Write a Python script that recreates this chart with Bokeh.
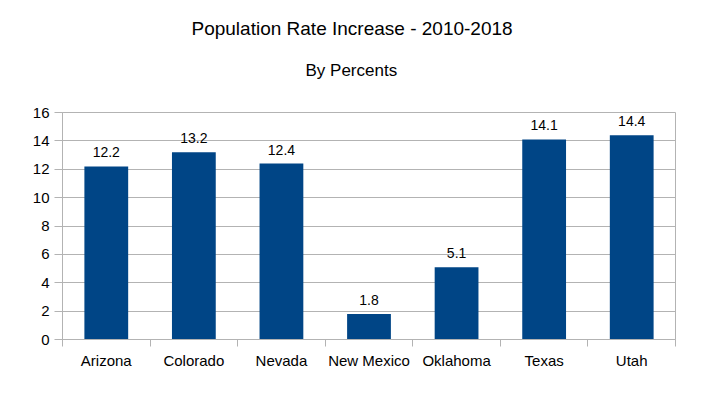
from bokeh.plotting import figure
from bokeh.models import ColumnDataSource, Range1d, FixedTicker, Title
from bokeh.core.properties import value
from bokeh.embed import file_html
from bokeh.resources import INLINE

states = ["Arizona", "Colorado", "Nevada", "New Mexico", "Oklahoma", "Texas", "Utah"]
increase = [12.2, 13.2, 12.4, 1.8, 5.1, 14.1, 14.4]
y_ticks = [0, 2, 4, 6, 8, 10, 12, 14, 16]
title_text = "Population Rate Increase - 2010-2018"
subtitle_text = "By Percents"

FONT = "Liberation Sans"
GRAY = "#b3b3b3"
BAR = "#004586"

n = len(states)
centres = [i + 0.5 for i in range(n)]  # category slot centres
src = ColumnDataSource(dict(x=centres, state=states, val=increase,
                            lbl=[f"{v:.1f}" for v in increase]))

p = figure(width=687, height=379, x_range=Range1d(0, n), y_range=Range1d(0, 16),
           output_backend="svg", toolbar_location=None,
           min_border_left=62, min_border_right=12, min_border_bottom=40, min_border_top=112,
           background_fill_color="white", border_fill_color="white")
p.title = None

# blank spacer between the plot frame and the subtitle
spacer = Title(text=" ", text_font=FONT, text_font_size="1px", standoff=20,
               text_color="white")
p.add_layout(spacer, "above")
sub = Title(text=subtitle_text, align="left", text_font=FONT, text_font_size="17px",
            text_font_style="normal", text_color="black", standoff=20, offset=243)
p.add_layout(sub, "above")
main = Title(text=title_text, align="left", text_font=FONT, text_font_size="19px",
             text_font_style="normal", text_color="black", standoff=19, offset=129)
p.add_layout(main, "above")

p.vbar(x="x", top="val", width=0.5, source=src, color=BAR, line_color=None)
p.text(x="x", y="val", text="lbl", source=src, text_align="center",
       text_baseline="alphabetic", y_offset=-14, text_font=value(FONT),
       text_font_size="14px", text_color="black")

# x axis: labels at category centres, ticks at category boundaries
xaxis = p.xaxis[0]
xaxis.ticker = FixedTicker(ticks=centres, minor_ticks=list(range(n + 1)))
xaxis.major_label_overrides = {c: s for c, s in zip(centres, states)}
xaxis.major_tick_out = 0
xaxis.major_tick_in = 0
xaxis.minor_tick_out = 7
xaxis.minor_tick_in = 0
xaxis.minor_tick_line_color = GRAY
xaxis.axis_line_color = GRAY
xaxis.major_label_standoff = 5
xaxis.major_label_text_font = FONT
xaxis.major_label_text_font_size = "15px"
xaxis.major_label_text_color = "black"

yaxis = p.yaxis[0]
yaxis.ticker = FixedTicker(ticks=y_ticks)
yaxis.axis_line_color = GRAY
yaxis.major_tick_line_color = GRAY
yaxis.major_tick_out = 8
yaxis.major_tick_in = 0
yaxis.minor_tick_line_color = None
yaxis.major_label_standoff = 5
yaxis.major_label_text_font = FONT
yaxis.major_label_text_font_size = "15px"
yaxis.major_label_text_color = "black"

p.xgrid.visible = False
p.ygrid.grid_line_color = GRAY
p.ygrid.grid_line_alpha = 1
p.outline_line_color = GRAY
p.outline_line_alpha = 1

open("out.html", "w").write(file_html(p, INLINE))
